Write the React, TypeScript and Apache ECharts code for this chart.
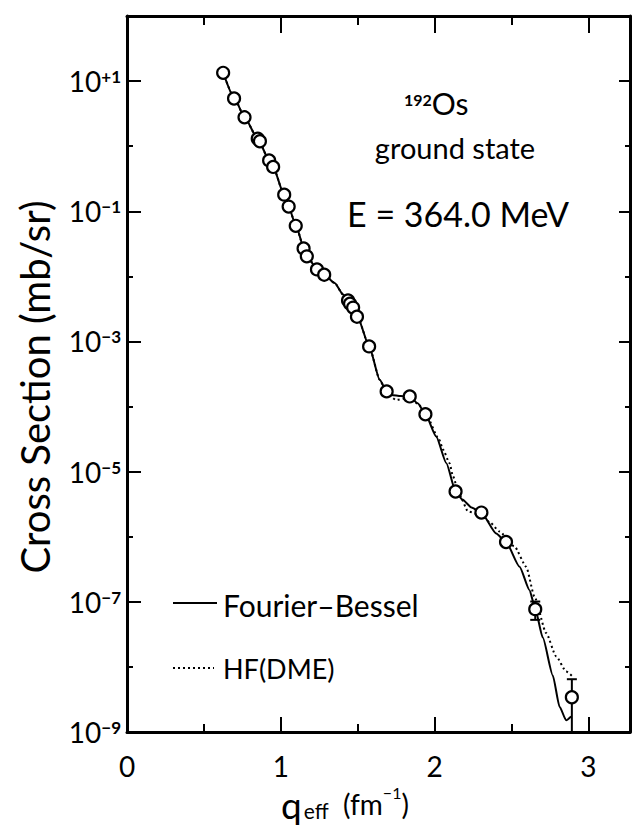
import { useEffect, useRef } from "react";
import * as echarts from "echarts";

const FONT = "Lato, 'DejaVu Sans', sans-serif";
const INK = "#000";

// Measured elastic cross sections: q_eff in fm^-1, sigma in mb/sr
const measuredQ = [
  0.625, 0.696, 0.764, 0.85, 0.864, 0.924, 0.95, 1.022, 1.051, 1.097, 1.148, 1.169, 1.235, 1.282,
  1.437, 1.45, 1.47, 1.495, 1.574, 1.688, 1.838, 1.94, 2.136, 2.304, 2.464, 2.654, 2.892,
];
const measuredSigma = [
  13.4, 5.4, 2.78, 1.3, 1.19, 0.604, 0.48, 0.18, 0.118, 0.0598, 0.0268, 0.0203, 0.0128, 0.0106,
  4.27e-3, 3.8e-3, 3.31e-3, 2.4e-3, 8.39e-4, 1.71e-4, 1.43e-4, 7.62e-5, 4.95e-6, 2.35e-6, 8.3e-7,
  7.71e-8, 3.42e-9,
];

// Error bars on the last two measurements
const errorQ = [2.654, 2.892];
const errorLow = [5.28e-8, 1.0e-9];
const errorHigh = [1.01e-7, 6.47e-9];

// Fourier-Bessel fit
const fbQ = [
  0.625, 0.7, 0.765, 0.85, 0.925, 0.95, 1.02, 1.05, 1.1, 1.15, 1.17, 1.235, 1.28, 1.35, 1.405, 1.45,
  1.5, 1.575, 1.643, 1.69, 1.72, 1.78, 1.84, 1.89, 1.94, 2.01, 2.076, 2.136, 2.18, 2.24, 2.304, 2.4,
  2.464, 2.552, 2.617, 2.654, 2.703, 2.768, 2.812, 2.855, 2.887,
];
const fbSigma = [
  13.5, 5.37, 2.75, 1.29, 0.603, 0.479, 0.182, 0.117, 0.0589, 0.0269, 0.0204, 0.0129, 0.0107,
  7.94e-3, 5.25e-3, 3.72e-3, 2.34e-3, 8.32e-4, 2.57e-4, 1.66e-4, 1.51e-4, 1.45e-4, 1.41e-4, 1.12e-4,
  7.59e-5, 3.47e-5, 1.35e-5, 5.01e-6, 3.72e-6, 2.82e-6, 2.34e-6, 1.12e-6, 8.32e-7, 3.47e-7, 1.51e-7,
  7.76e-8, 2.82e-8, 7.41e-9, 2.45e-9, 1.51e-9, 1.74e-9,
];

// HF(DME) calculation
const hfQ = [
  0.625, 0.7, 0.765, 0.85, 0.925, 0.95, 1.02, 1.05, 1.1, 1.15, 1.17, 1.235, 1.28, 1.35, 1.405, 1.45,
  1.5, 1.575, 1.643, 1.69, 1.75, 1.8, 1.84, 1.9, 1.95, 2.03, 2.054, 2.097, 2.119, 2.16, 2.217, 2.3,
  2.36, 2.422, 2.519, 2.595, 2.649, 2.725, 2.79, 2.855, 2.898,
];
const hfSigma = [
  13.5, 5.37, 2.75, 1.29, 0.603, 0.479, 0.182, 0.117, 0.0589, 0.0269, 0.0204, 0.0129, 0.0107,
  7.94e-3, 5.25e-3, 3.72e-3, 2.34e-3, 8.32e-4, 2.57e-4, 1.58e-4, 1.26e-4, 1.32e-4, 1.38e-4, 1.05e-4,
  6.92e-5, 3.09e-5, 2.19e-5, 1.35e-5, 8.51e-6, 4.47e-6, 2.45e-6, 2.14e-6, 1.66e-6, 1.2e-6, 7.08e-7,
  3.47e-7, 1.2e-7, 3.31e-8, 1.45e-8, 8.51e-9, 7.08e-9,
];

// Axis ticks
const xMajorTicks = [0, 1, 2, 3];
const xMinorTicks = [0.5, 1.5, 2.5];
const yMajorTicks = [1e-9, 1e-7, 1e-5, 1e-3, 1e-1, 1e1];
const yMinorTicks = [1e-8, 1e-6, 1e-4, 1e-2, 1e0];

const X_MIN = 0;
const X_MAX = 3.27;
const Y_MIN = 1e-9;
const Y_MAX = 1e2;

const gridBox = { left: 127, right: 2, top: 16, bottom: 94 };

function xAxisDef(gridIndex: number, position: "top" | "bottom", ticks: number[], len: number, line: boolean, labels: boolean) {
  return {
    type: "value",
    gridIndex,
    position,
    min: X_MIN,
    max: X_MAX,
    splitLine: { show: false },
    axisLine: { show: line, onZero: false, lineStyle: { color: INK, width: 3 } },
    axisTick: { show: true, inside: true, length: len, customValues: ticks, lineStyle: { color: INK, width: 2 } },
    axisLabel: labels
      ? { show: true, customValues: ticks, margin: 20, color: INK, fontSize: 28, fontFamily: FONT }
      : { show: false },
  };
}

function expLabel(v: number) {
  const e = Math.round(Math.log10(v));
  const sign = e > 0 ? "+" : "\u2212";
  return `{b|10}{s|${sign}${Math.abs(e)}}`;
}

function yAxisDef(gridIndex: number, position: "left" | "right", ticks: number[], len: number, line: boolean, labels: boolean) {
  return {
    type: "log",
    logBase: 10,
    gridIndex,
    position,
    min: Y_MIN,
    max: Y_MAX,
    splitLine: { show: false },
    minorTick: { show: false },
    axisLine: { show: line, onZero: false, lineStyle: { color: INK, width: 3 } },
    axisTick: { show: true, inside: true, length: len, customValues: ticks, lineStyle: { color: INK, width: 2 } },
    axisLabel: labels
      ? {
          show: true,
          customValues: ticks,
          margin: 6,
          formatter: expLabel,
          rich: {
            b: { fontSize: 28, fontFamily: FONT, color: INK },
            s: { fontSize: 17, fontFamily: FONT, fontWeight: "bold", color: INK, padding: [0, 0, 9, 0] },
          },
        }
      : { show: false },
  };
}

function buildOption() {
  const pairs = (xs: number[], ys: number[]) => xs.map((x, i) => [x, ys[i]]);
  return {
    animation: false,
    backgroundColor: "#fff",
    grid: [{ ...gridBox }, { ...gridBox }],
    xAxis: [
      xAxisDef(0, "bottom", xMajorTicks, 15, true, true),
      xAxisDef(0, "top", xMajorTicks, 17, true, false),
      xAxisDef(1, "bottom", xMinorTicks, 8, false, false),
      xAxisDef(1, "top", xMinorTicks, 9, false, false),
    ],
    yAxis: [
      yAxisDef(0, "left", yMajorTicks, 14, true, true),
      yAxisDef(0, "right", yMajorTicks, 11, true, false),
      yAxisDef(1, "left", yMinorTicks, 6, false, false),
      yAxisDef(1, "right", yMinorTicks, 5, false, false),
    ],
    series: [
      {
        name: "Fourier\u2013Bessel",
        type: "line",
        xAxisIndex: 0,
        yAxisIndex: 0,
        data: pairs(fbQ, fbSigma),
        showSymbol: false,
        symbol: "none",
        smooth: 0.2,
        smoothMonotone: "x",
        lineStyle: { color: INK, width: 2 },
        z: 2,
      },
      {
        name: "HF(DME)",
        type: "line",
        xAxisIndex: 0,
        yAxisIndex: 0,
        data: pairs(hfQ, hfSigma),
        showSymbol: false,
        symbol: "none",
        smooth: 0.2,
        smoothMonotone: "x",
        lineStyle: { color: INK, width: 2, type: [2, 3] },
        z: 2,
      },
      {
        name: "errors",
        type: "custom",
        xAxisIndex: 0,
        yAxisIndex: 0,
        data: errorQ.map((q, i) => [q, errorLow[i], errorHigh[i]]),
        renderItem: (_params: any, api: any) => {
          const q = api.value(0);
          const top = api.coord([q, api.value(2)]);
          const bot = api.coord([q, api.value(1)]);
          const half = 5;
          const style = { stroke: INK, lineWidth: 2 };
          return {
            type: "group",
            children: [
              { type: "line", shape: { x1: top[0], y1: top[1], x2: bot[0], y2: bot[1] }, style },
              { type: "line", shape: { x1: top[0] - half, y1: top[1], x2: top[0] + half, y2: top[1] }, style },
              { type: "line", shape: { x1: bot[0] - half, y1: bot[1], x2: bot[0] + half, y2: bot[1] }, style },
            ],
          };
        },
        z: 3,
      },
      {
        name: "data",
        type: "scatter",
        xAxisIndex: 0,
        yAxisIndex: 0,
        data: pairs(measuredQ, measuredSigma),
        symbol: "circle",
        symbolSize: 12,
        itemStyle: { color: "#fff", borderColor: INK, borderWidth: 2.2, opacity: 1 },
        z: 4,
      },
    ],
    graphic: [
      {
        type: "text",
        x: 35,
        y: 387,
        rotation: Math.PI / 2,
        style: {
          text: "Cross Section (mb/sr)",
          fontSize: 40,
          fontFamily: FONT,
          fill: INK,
          align: "center",
          verticalAlign: "middle",
        },
      },
      {
        type: "text",
        x: 281,
        y: 804,
        style: {
          text: "{q|q}{e|eff}{p|  (fm}{s|\u22121}{p|)}",
          align: "left",
          verticalAlign: "middle",
          rich: {
            q: { fontSize: 37, fontFamily: FONT, fill: INK },
            e: { fontSize: 21, fontFamily: FONT, fill: INK, padding: [12, 0, 0, 2] },
            p: { fontSize: 28, fontFamily: FONT, fill: INK },
            s: { fontSize: 16, fontFamily: FONT, fill: INK, padding: [0, 0, 24, 0] },
          },
        },
      },
      {
        type: "text",
        x: 404,
        y: 103,
        style: {
          text: "{sup|192}{big|Os}",
          align: "left",
          verticalAlign: "middle",
          rich: {
            sup: { fontSize: 16, fontFamily: FONT, fontWeight: "bold", fill: INK, padding: [0, 0, 7, 0] },
            big: { fontSize: 30, fontFamily: FONT, fill: INK },
          },
        },
      },
      {
        type: "text",
        x: 455,
        y: 147,
        style: { text: "ground state", fontSize: 29, fontFamily: FONT, fill: INK, align: "center", verticalAlign: "middle" },
      },
      {
        type: "text",
        x: 458,
        y: 213,
        style: { text: "E = 364.0 MeV", fontSize: 34, fontFamily: FONT, fill: INK, align: "center", verticalAlign: "middle" },
      },
      {
        type: "line",
        shape: { x1: 173, y1: 603, x2: 217, y2: 603 },
        style: { stroke: INK, lineWidth: 2 },
      },
      {
        type: "text",
        x: 223,
        y: 605,
        style: { text: "Fourier\u2013Bessel", fontSize: 30, fontFamily: FONT, fill: INK, align: "left", verticalAlign: "middle" },
      },
      {
        type: "line",
        shape: { x1: 173, y1: 668, x2: 214, y2: 668 },
        style: { stroke: INK, lineWidth: 2, lineDash: [2, 3] },
      },
      {
        type: "text",
        x: 223,
        y: 668,
        style: { text: "HF(DME)", fontSize: 27, fontFamily: FONT, fill: INK, align: "left", verticalAlign: "middle" },
      },
    ],
  };
}

export default function App() {
  const ref = useRef<HTMLDivElement>(null);
  useEffect(() => {
    if (!ref.current) return;
    const chart = echarts.init(ref.current, null, { renderer: "svg" });
    chart.setOption(buildOption() as any);
    return () => chart.dispose();
  }, []);
  return (
    <div
      ref={ref}
      style={{ position: "fixed", left: 0, top: 0, width: 632, height: 826, background: "#fff" }}
    />
  );
}
